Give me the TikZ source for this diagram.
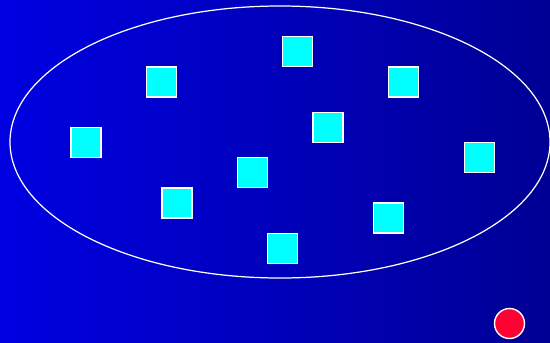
\documentclass[tikz,border=0pt]{standalone}
\usepackage{tikz}
\definecolor{bgleft}{RGB}{0,0,226}
\definecolor{bgright}{RGB}{0,0,148}
\definecolor{itemcyan}{RGB}{0,255,255}
\definecolor{outred}{RGB}{255,0,51}

\begin{document}
\begin{tikzpicture}[
  x=0.02cm,y=-0.02cm,
  item/.style={draw=white,fill=itemcyan,line width=0.7pt,
    minimum width=0.6cm,minimum height=0.6cm,inner sep=0pt},
  outsider/.style={circle,draw=white,fill=outred,line width=0.8pt,
    minimum size=0.6cm,inner sep=0pt},
  border/.style={draw=white,line width=0.7pt}
]
  \shade[left color=bgleft,right color=bgright] (0,0) rectangle (550,342);
  \useasboundingbox (0,0) rectangle (550,342);

  \draw[border] (280,142) ellipse [x radius=270,y radius=136];

  \node[item] (a) at (297.5,51.5) {};
  \node[item] (b) at (161.5,82) {};
  \node[item] (c) at (403.5,82) {};
  \node[item] (d) at (86,142.5) {};
  \node[item] (e) at (328,127.5) {};
  \node[item] (f) at (479.5,157.5) {};
  \node[item] (g) at (252.5,172.5) {};
  \node[item] (h) at (177,203) {};
  \node[item] (i) at (388.5,218) {};
  \node[item] (j) at (282.5,248.5) {};

  \node[outsider] (x) at (509.5,323.5) {};
\end{tikzpicture}
\end{document}
